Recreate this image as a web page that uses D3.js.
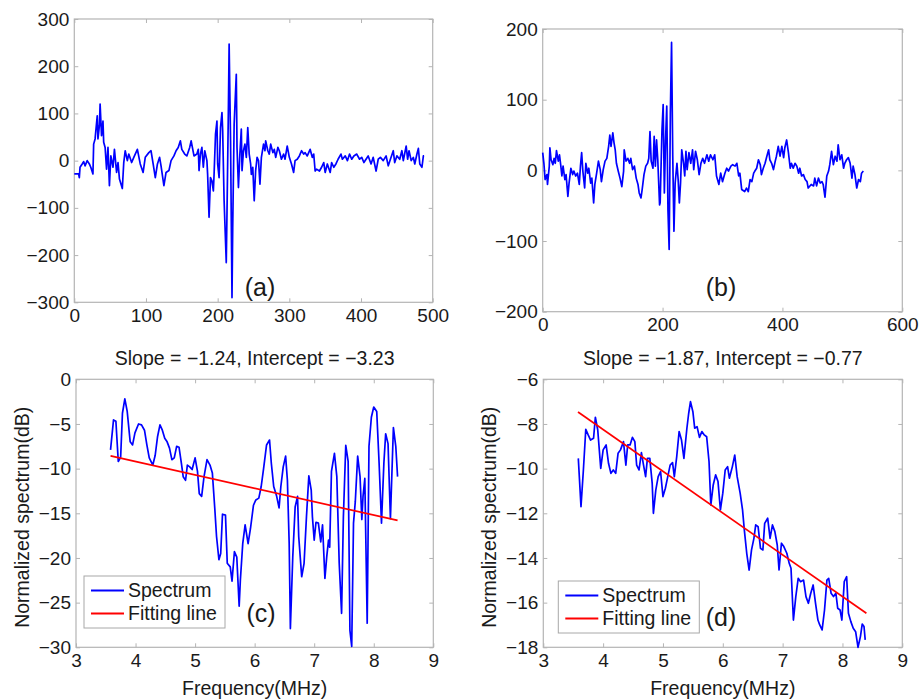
<!DOCTYPE html>
<html>
<head>
<meta charset="utf-8">
<script src="https://cdn.jsdelivr.net/npm/d3@7"></script>
<style>
  body { margin: 0; background: #fff; }
  svg { display: block; }
  text { font-family: 'Liberation Sans', Arial, Helvetica, sans-serif; fill: #1a1a1a; }
</style>
</head>
<body>
<svg id="fig" width="920" height="700"></svg>
<script>
// ---- (a) RF echo line: sample index / amplitude ----
const waveAIdx = [0,6,7,8,11,13,15,18,21,23,26,27,29,32,33,35,36,38,40,41,43,45,47,49,51,54,56,59,61,63,67,69,71,74,76,80,83,88,92,96,99,104,107,110,113,116,119,121,125,128,132,135,139,142,145,148,150,154,157,161,163,167,171,173,174,176,178,180,182,185,186,188,190,192,194,195,197,199,200,202,204,206,207,209,212,213,215,216,218,220,221,223,226,227,229,231,233,234,236,238,240,242,244,246,247,249,251,253,255,257,259,261,264,266,267,270,272,274,277,279,281,284,286,289,292,294,297,300,303,306,308,311,314,317,320,322,325,329,332,334,336,338,342,345,348,350,353,357,359,362,365,368,372,374,378,381,384,387,390,394,398,401,404,407,410,414,417,421,424,427,431,435,438,441,445,447,450,454,457,459,463,465,467,470,473,475,478,480,482,485,487,488];
const waveAVal = [-28,-28,-36,-14,-7,-2,-11,0,-7,-14,-28,35,46,95,46,74,120,53,84,39,28,-18,28,-53,10,-14,24,-25,-4,-39,-59,-4,21,0,14,-4,7,24,-7,-25,7,17,21,-7,-36,-7,7,-11,-53,-25,-21,0,10,21,28,42,24,14,10,28,42,10,14,24,-21,14,28,-14,21,0,-29,-120,-36,-43,-64,-29,56,84,-7,-36,70,102,63,-85,-216,-113,113,247,42,-290,-142,77,183,28,-57,14,67,-21,21,35,7,70,14,-7,-29,-14,-85,-21,7,0,-50,7,35,21,42,21,14,35,17,24,7,28,21,3,14,3,31,7,-7,-25,0,3,10,21,14,17,10,24,7,14,-22,-18,-22,-14,-4,-25,-7,-25,-4,-14,-7,3,14,3,10,0,14,3,10,14,3,7,-4,3,10,-7,7,-22,3,7,0,10,-11,3,21,-4,10,3,21,0,31,3,21,0,7,-7,14,26,-7,-14,10,10];

// ---- (b) RF echo line: sample index / amplitude ----
const waveBIdx = [0,2,4,7,8,11,12,14,17,19,21,23,26,28,30,32,34,37,39,42,44,47,50,52,55,58,61,63,65,67,70,72,75,77,80,82,85,87,90,93,96,98,101,104,107,110,112,114,117,119,121,123,126,129,132,135,136,139,142,145,147,150,153,156,159,161,164,166,169,172,175,177,179,181,184,186,188,190,192,195,196,199,201,203,205,207,209,211,213,215,217,219,221,224,226,228,230,232,235,237,239,241,244,247,250,252,255,258,261,264,267,270,274,277,280,284,287,290,294,297,300,304,307,310,314,317,321,324,327,329,332,337,340,343,346,349,352,354,357,360,363,365,368,371,374,377,379,382,385,388,390,393,396,399,402,404,407,410,413,415,418,421,424,427,429,432,435,438,441,443,448,452,454,457,460,463,466,468,471,474,477,479,482,485,488,491,493,496,499,502,504,507,510,513,516,518,521,524,527,530,532,535];
const waveBVal = [25,10,-13,-6,-20,6,32,15,8,17,10,28,13,22,8,-8,6,-13,-6,-37,-18,3,-6,-1,-8,-4,-20,6,25,-1,-25,10,-4,3,-18,-11,-46,-20,-4,13,1,-16,1,13,17,34,50,34,53,39,29,10,-1,-11,-23,-1,29,13,17,10,17,1,6,-11,-20,-32,-39,-27,-6,6,10,17,55,13,3,48,6,43,15,-49,-46,57,93,-32,43,91,-56,-112,81,181,20,-86,-18,10,-13,-46,-18,29,10,-8,27,1,25,10,29,1,27,15,-6,10,17,10,22,13,22,15,22,-8,-20,-4,-16,-4,3,-1,6,8,6,10,-8,-4,-27,-30,-25,-30,-13,-16,-4,-1,3,15,8,-6,3,10,20,29,15,10,1,13,20,34,20,34,18,32,43,25,3,10,3,10,6,-4,3,-8,-6,-13,-16,-25,-20,-22,-11,-22,-11,-18,-16,-20,-38,-8,-1,8,27,8,20,13,36,15,22,3,10,15,18,10,-11,6,-6,-25,-13,-16,-4,-1];

// ---- (c) normalized spectrum (dB) vs frequency (MHz) ----
const specCFreq = [3.58,3.63,3.67,3.71,3.75,3.78,3.82,3.86,3.91,3.95,3.99,4.05,4.10,4.15,4.19,4.23,4.29,4.33,4.37,4.41,4.45,4.49,4.53,4.57,4.61,4.65,4.69,4.73,4.77,4.80,4.84,4.87,4.91,4.95,5.00,5.04,5.07,5.11,5.15,5.20,5.25,5.29,5.33,5.36,5.40,5.43,5.46,5.51,5.54,5.59,5.62,5.66,5.70,5.74,5.76,5.80,5.84,5.89,5.93,5.98,6.02,6.07,6.11,6.15,6.20,6.25,6.28,6.32,6.37,6.41,6.44,6.48,6.52,6.55,6.58,6.60,6.64,6.68,6.72,6.74,6.79,6.83,6.87,6.91,6.95,6.97,7.00,7.03,7.07,7.11,7.14,7.18,7.21,7.24,7.26,7.29,7.34,7.38,7.42,7.46,7.49,7.53,7.57,7.60,7.63,7.66,7.69,7.73,7.77,7.80,7.82,7.85,7.89,7.92,7.96,8.00,8.05,8.09,8.13,8.17,8.20,8.24,8.28,8.33,8.37,8.40];
const specCdB = [-7.9,-4.55,-4.7,-9.2,-8.7,-3.8,-2.2,-3.6,-7.0,-7.35,-6.0,-5.0,-5.1,-5.7,-7.35,-8.8,-9.6,-8.5,-6.4,-5.1,-5.7,-6.6,-7.0,-7.7,-9.0,-8.8,-7.5,-7.6,-9.4,-10.9,-11.3,-9.6,-9.8,-10.1,-8.8,-10.3,-12.8,-13.1,-10.9,-9.0,-9.6,-10.5,-14.4,-17.6,-20.2,-19.5,-15.1,-15.2,-20.6,-21.0,-22.6,-19.3,-19.9,-25.4,-22.5,-18.4,-16.3,-18.4,-16.7,-14.1,-13.5,-13.3,-12.0,-10.0,-7.35,-6.8,-9.4,-12.0,-13.1,-14.4,-12.0,-9.8,-8.6,-11.3,-18.4,-27.9,-19.9,-14.3,-13.1,-17.6,-22.1,-20.6,-15.4,-10.8,-12.4,-15.4,-18.0,-16.0,-16.1,-18.2,-16.3,-22.3,-19.9,-18.0,-18.8,-10.3,-8.3,-10.9,-20.6,-26.2,-15.4,-7.4,-9.2,-28.1,-29.9,-16.1,-13.7,-8.6,-10.9,-15.7,-13.1,-11.1,-27.3,-7.5,-4.25,-3.1,-3.6,-9.4,-16.1,-9.4,-6.1,-7.2,-15.6,-5.4,-7.5,-10.9];
// fitted line end points for (c)
const fitCFreq = [3.58, 8.40];
const fitCdB = [-8.58, -15.80];
const slopeC = -1.24, interceptC = -3.23;

// ---- (d) normalized spectrum (dB) vs frequency (MHz) ----
const specDFreq = [3.585,3.63,3.67,3.71,3.75,3.79,3.84,3.87,3.91,3.96,4.00,4.05,4.09,4.13,4.17,4.21,4.25,4.29,4.34,4.38,4.41,4.45,4.49,4.53,4.56,4.60,4.64,4.67,4.71,4.74,4.78,4.82,4.84,4.88,4.92,4.96,5.00,5.04,5.08,5.12,5.16,5.19,5.23,5.27,5.31,5.35,5.40,5.43,5.46,5.50,5.53,5.57,5.61,5.65,5.69,5.73,5.77,5.80,5.84,5.88,5.92,5.96,6.00,6.04,6.08,6.11,6.16,6.20,6.24,6.29,6.33,6.36,6.40,6.44,6.48,6.52,6.55,6.59,6.63,6.67,6.70,6.75,6.79,6.83,6.87,6.91,6.94,6.98,7.02,7.07,7.11,7.14,7.18,7.22,7.26,7.30,7.35,7.39,7.43,7.47,7.51,7.55,7.59,7.62,7.66,7.70,7.74,7.77,7.81,7.85,7.89,7.92,7.96,7.99,8.03,8.07,8.10,8.14,8.18,8.22,8.26,8.30,8.33,8.36,8.38];
const specDdB = [-9.54,-11.7,-10.06,-8.24,-8.49,-8.72,-8.64,-7.7,-8.27,-9.99,-9.16,-8.94,-9.76,-10.21,-10.06,-10.21,-9.31,-9.16,-8.79,-9.84,-8.94,-8.94,-8.6,-8.79,-9.84,-10.06,-9.28,-9.76,-10.36,-9.54,-9.54,-10.66,-12.0,-10.96,-10.36,-10.13,-11.25,-10.88,-10.36,-9.84,-9.73,-10.36,-9.46,-8.34,-8.72,-9.54,-8.19,-7.52,-7.0,-7.45,-8.19,-8.12,-8.6,-8.34,-8.49,-8.57,-9.69,-11.63,-10.73,-10.28,-10.58,-11.85,-11.1,-10.06,-9.91,-10.43,-9.91,-9.39,-10.36,-11.1,-11.85,-12.75,-13.79,-14.54,-13.64,-13.12,-12.52,-12.6,-13.57,-13.64,-12.45,-12.22,-13.12,-12.52,-12.82,-13.42,-14.54,-13.34,-13.49,-13.79,-14.24,-14.46,-16.78,-15.73,-14.91,-15.06,-14.99,-15.73,-16.03,-15.58,-15.21,-16.03,-16.78,-17.0,-17.22,-16.33,-14.99,-14.91,-15.58,-15.73,-15.58,-16.25,-16.33,-16.78,-15.06,-14.84,-16.48,-16.85,-17.15,-17.3,-18.0,-17.52,-16.96,-17.07,-17.67];
const fitDFreq = [3.58, 8.40];
const slopeD = -1.87, interceptD = -0.77;

// ---- tick values ----
const ticksAX = [0,100,200,300,400,500];
const ticksAY = [-300,-200,-100,0,100,200,300];
const ticksBX = [0,200,400,600];
const ticksBY = [-200,-100,0,100,200];
const ticksFreq = [3,4,5,6,7,8,9];
const ticksCY = [-30,-25,-20,-15,-10,-5,0];
const ticksDY = [-18,-16,-14,-12,-10,-8,-6];

const legendLabels = ["Spectrum", "Fitting line"];
const BLUE = "#0000ff", RED = "#ff0000", FRAME = "#b4b4b4";
const TICK_FONT = 19, LABEL_FONT = 19.5;

const svg = d3.select("#fig");

function makePanel(box, xDom, yDom, xTicks, yTicks) {
  const x = d3.scaleLinear().domain(xDom).range([box.x0, box.x1]);
  const y = d3.scaleLinear().domain(yDom).range([box.y1, box.y0]);
  const g = svg.append("g");
  const tk = 4;
  const fmt = d3.format("");

  // inward ticks on all four sides; labels only left and bottom
  const axes = [
    [d3.axisBottom(x).tickValues(xTicks).tickSize(-tk).tickPadding(6).tickFormat(fmt), box.y1, "x"],
    [d3.axisTop(x).tickValues(xTicks).tickSize(-tk).tickFormat(""), box.y0, "x"],
    [d3.axisLeft(y).tickValues(yTicks).tickSize(-tk).tickPadding(5).tickFormat(fmt), box.x0, "y"],
    [d3.axisRight(y).tickValues(yTicks).tickSize(-tk).tickFormat(""), box.x1, "y"]
  ];
  axes.forEach(([ax, pos, dir]) => {
    const a = g.append("g")
      .attr("transform", dir === "x" ? `translate(0,${pos})` : `translate(${pos},0)`)
      .call(ax);
    a.select(".domain").remove();
    a.selectAll(".tick line").attr("stroke", FRAME).attr("stroke-width", 1);
    a.selectAll(".tick text").attr("font-size", TICK_FONT)
      .attr("font-family", "'Liberation Sans', Arial, sans-serif").attr("fill", "#1a1a1a");
  });

  g.append("rect")
    .attr("x", box.x0).attr("y", box.y0)
    .attr("width", box.x1 - box.x0).attr("height", box.y1 - box.y0)
    .attr("fill", "none").attr("stroke", FRAME).attr("stroke-width", 1.2);

  return { x, y, g, box };
}

function trace(p, xs, ys, color, w) {
  const pts = xs.map((v, i) => [v, ys[i]]);
  p.g.append("path")
    .datum(pts)
    .attr("fill", "none")
    .attr("stroke", color)
    .attr("stroke-width", w)
    .attr("stroke-linejoin", "round")
    .attr("d", d3.line().x(d => p.x(d[0])).y(d => p.y(d[1])));
}

function panelTag(p, label, cx, cy) {
  p.g.append("text").attr("x", cx).attr("y", cy).attr("dy", "0.35em")
    .attr("text-anchor", "middle").attr("font-size", 25).text(label);
}

function legend(p, bx, by) {
  const w = 141, h = 52;
  const lg = p.g.append("g").attr("transform", `translate(${bx},${by})`);
  lg.append("rect").attr("width", w).attr("height", h)
    .attr("fill", "#fff").attr("stroke", "#a8a8a8").attr("stroke-width", 1);
  [BLUE, RED].forEach((c, i) => {
    const yy = 14.5 + i * 23;
    lg.append("line").attr("x1", 7).attr("x2", 40).attr("y1", yy).attr("y2", yy)
      .attr("stroke", c).attr("stroke-width", 1.8);
    lg.append("text").attr("x", 44).attr("y", yy).attr("dy", "0.35em")
      .attr("font-size", LABEL_FONT).text(legendLabels[i]);
  });
}

function spectrumLabels(p, title) {
  const cx = (p.box.x0 + p.box.x1) / 2;
  p.g.append("text").attr("x", cx).attr("y", p.box.y0 - 21).attr("dy", "0.35em")
    .attr("text-anchor", "middle").attr("font-size", LABEL_FONT).text(title);
  p.g.append("text").attr("x", cx).attr("y", p.box.y1 + 41).attr("dy", "0.35em")
    .attr("text-anchor", "middle").attr("font-size", LABEL_FONT).text("Frequency(MHz)");
  const yc = (p.box.y0 + p.box.y1) / 2 + 4;
  p.g.append("text")
    .attr("transform", `translate(${p.box.x0 - 54},${yc}) rotate(-90)`)
    .attr("dy", "0.35em").attr("text-anchor", "middle")
    .attr("font-size", LABEL_FONT).text("Normalized spectrum(dB)");
}

const fmt2 = v => d3.format(".2f")(v);

// (a)
const pA = makePanel({x0: 74.3, x1: 432.7, y0: 19, y1: 302.3}, [0, 500], [-300, 300], ticksAX, ticksAY);
trace(pA, waveAIdx, waveAVal, BLUE, 1.7);
panelTag(pA, "(a)", 260, 287);

// (b)
const pB = makePanel({x0: 542.7, x1: 902.3, y0: 29, y1: 311.7}, [0, 600], [-200, 200], ticksBX, ticksBY);
trace(pB, waveBIdx, waveBVal, BLUE, 1.7);
panelTag(pB, "(b)", 721, 287);

// (c)
const pC = makePanel({x0: 76, x1: 433.3, y0: 379.3, y1: 647.3}, [3, 9], [-30, 0], ticksFreq, ticksCY);
trace(pC, specCFreq, specCdB, BLUE, 1.7);
trace(pC, fitCFreq, fitCdB, RED, 1.7);
spectrumLabels(pC, `Slope =  ${fmt2(slopeC)}, Intercept =  ${fmt2(interceptC)}`);
legend(pC, 84, 576);
panelTag(pC, "(c)", 261, 613);

// (d)
const pD = makePanel({x0: 543.3, x1: 902.3, y0: 379.3, y1: 647.3}, [3, 9], [-18, -6], ticksFreq, ticksDY);
trace(pD, specDFreq, specDdB, BLUE, 1.7);
trace(pD, fitDFreq, fitDFreq.map(f => slopeD * f + interceptD), RED, 1.7);
spectrumLabels(pD, `Slope =  ${fmt2(slopeD)}, Intercept =  ${fmt2(interceptD)}`);
legend(pD, 558.3, 581);
panelTag(pD, "(d)", 721, 617);
</script>
</body>
</html>
